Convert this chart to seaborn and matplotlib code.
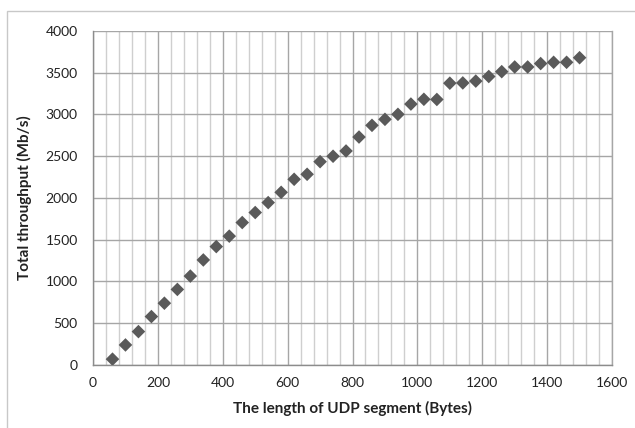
import numpy as np
import pandas as pd
import matplotlib
matplotlib.use("Agg")
import matplotlib.pyplot as plt
import matplotlib.patches as mpatches
import seaborn as sns

# --- data ---
segment_len = [60, 100, 140, 180, 220, 260, 300, 340, 380, 420, 460, 500,
               540, 580, 620, 660, 700, 740, 780, 820, 860, 900, 940, 980,
               1020, 1060, 1100, 1140, 1180, 1220, 1260, 1300, 1340, 1380,
               1420, 1460, 1500]
throughput = [70, 240, 400, 580, 740, 905, 1065, 1258, 1418, 1543, 1706, 1826,
              1945, 2068, 2224, 2284, 2435, 2500, 2563, 2730, 2870, 2942, 3002, 3125,
              3182, 3180, 3375, 3378, 3400, 3455, 3513, 3569, 3569, 3610,
              3625, 3625, 3680]
x_ticks = [0, 200, 400, 600, 800, 1000, 1200, 1400, 1600]
y_ticks = [0, 500, 1000, 1500, 2000, 2500, 3000, 3500, 4000]

df = pd.DataFrame({"len": segment_len, "thr": throughput})

sns.set_style("white")
plt.rcParams['font.family'] = ['Lato', 'DejaVu Sans']

fig = plt.figure(figsize=(6.35, 4.28), dpi=100)
ax = fig.add_axes([0.1465, 0.1472, 0.8173, 0.7804])

# outer frame (only left/top visible in the reference)
fig.patches.append(mpatches.Rectangle((7 / 635, -0.1), 1.2, 1 - 11 / 428 + 0.1,
                                      transform=fig.transFigure, fill=False,
                                      edgecolor='#c8c8c8', linewidth=1.0))

# grid
ax.set_xlim(0, 1600)
ax.set_ylim(0, 4000)
ax.set_xticks(x_ticks)
ax.set_yticks(y_ticks)
ax.set_xticks(np.arange(0, 1601, 40), minor=True)
ax.grid(which='major', axis='both', color='#a6a6a6', linewidth=1.0)
ax.grid(which='minor', axis='x', color='#cfcfcf', linewidth=1.0)
ax.set_axisbelow(True)

sns.scatterplot(data=df, x="len", y="thr", marker='D', s=48, color='#5a5a5a',
                edgecolor='none', ax=ax, zorder=3)

for side in ['left', 'bottom', 'right']:
    ax.spines[side].set_color('#8c8c8c')
    ax.spines[side].set_linewidth(1.0)
ax.spines['top'].set_visible(False)
ax.spines['right'].set_color('#a6a6a6')

ax.tick_params(axis='both', which='major', direction='out', length=5, width=1,
               color='#8c8c8c', labelsize=10, labelcolor='#222222', pad=4)
ax.tick_params(axis='x', which='minor', length=0)
ax.tick_params(axis='y', pad=6)

ax.set_xlabel("The length of UDP segment (Bytes)", fontsize=11, fontweight='bold',
              color='#222222', labelpad=8)
ax.set_ylabel("Total throughput (Mb/s)", fontsize=11, fontweight='bold',
              color='#222222', labelpad=10)

fig.savefig("out.png", dpi=100)
